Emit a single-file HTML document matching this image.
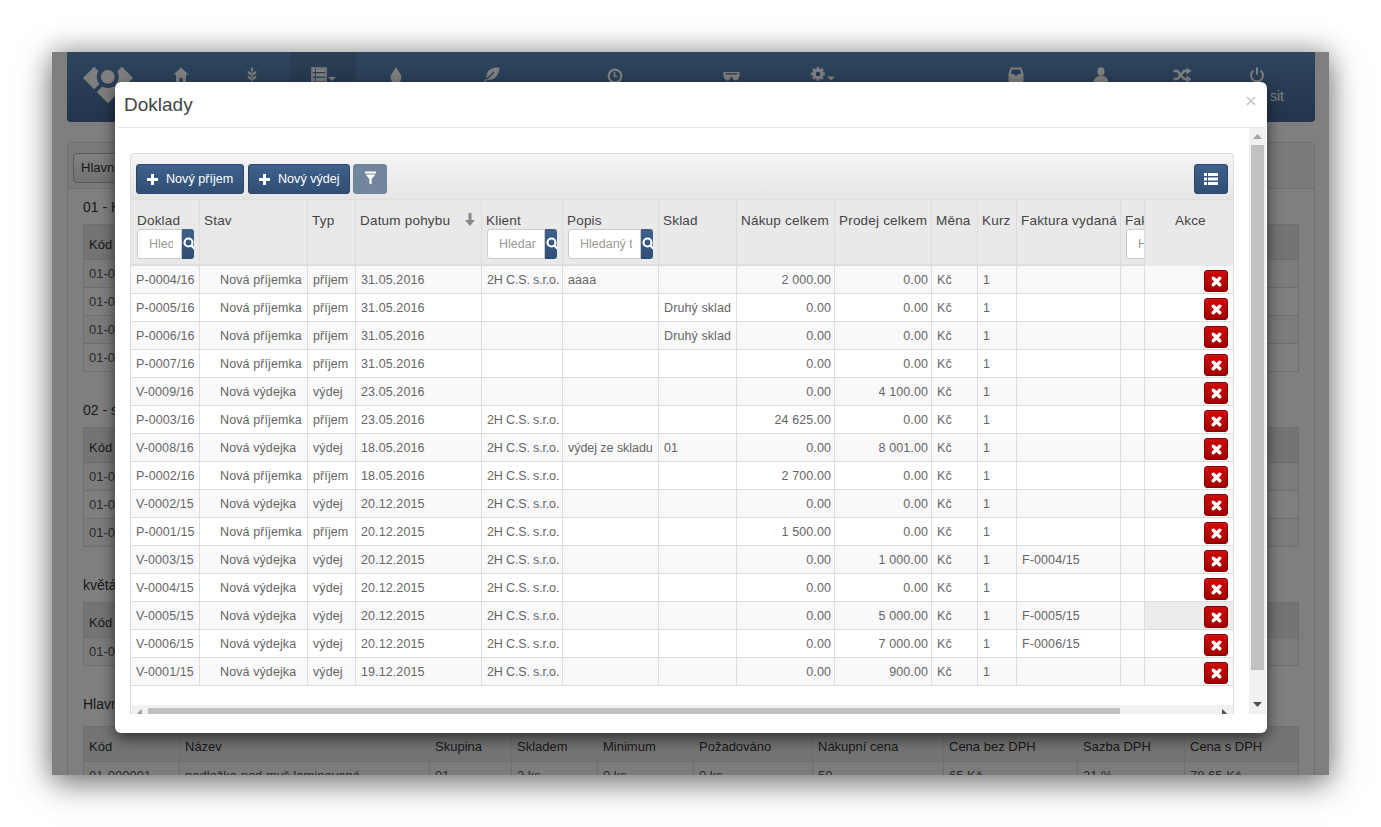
<!DOCTYPE html><html><head><meta charset="utf-8"><title>Doklady</title><style>
*{box-sizing:border-box;margin:0;padding:0}
html,body{width:1381px;height:827px;overflow:hidden;background:#fff;font-family:"Liberation Sans",sans-serif}
.abs{position:absolute}
#win{position:absolute;left:52px;top:52px;width:1277px;height:723px;background:#fff;overflow:hidden;box-shadow:0 8px 30px rgba(0,0,0,.55),0 -6px 24px rgba(0,0,0,.14)}
#nav{position:absolute;left:15px;top:0;width:1248px;height:70px;border-radius:0 0 4px 4px;background:linear-gradient(#5e8bbb,#46699a);}
.nico{position:absolute;fill:#fff}
#panel{position:absolute;left:15px;top:90px;width:1248px;height:700px;border:1px solid #ddd;border-radius:4px;background:#fff}
#phead{position:absolute;left:0;top:0;width:1246px;height:46px;background:#f5f5f5;border-bottom:1px solid #ddd}
.bgt{position:absolute;color:#333;font-size:15px;white-space:nowrap}
.btab{position:absolute;border:1px solid #ddd}
.bth{position:absolute;left:0;top:0;right:0;background:#e8e8e8;border-bottom:1px solid #ddd}
.btr{position:absolute;left:0;right:0;border-top:1px solid #ddd}
.btx{position:absolute;font-size:13px;color:#555;white-space:nowrap}
#backdrop{position:absolute;left:0;top:0;width:1277px;height:723px;background:rgba(0,0,0,.5)}
#modal{position:absolute;left:63px;top:30px;width:1152px;height:651px;background:#fff;border-radius:6px;box-shadow:0 5px 15px rgba(0,0,0,.6);overflow:hidden}
#mhead{position:absolute;left:0;top:0;width:1152px;height:46px;border-bottom:1px solid #e5e5e5;border-radius:6px 6px 5px 5px}
#mtitle{position:absolute;left:9px;top:12px;font-size:19px;color:#444;white-space:nowrap}
#mclose{position:absolute;left:1131px;top:14px}
#mbody{position:absolute;left:0;top:46px;width:1152px;height:586px;overflow:hidden}
#vs{position:absolute;left:1134px;top:0;width:17px;height:586px;background:#f1f1f1}
#vthumb{position:absolute;left:2px;top:17px;width:13px;height:525px;background:#c1c1c1}
.cell{position:absolute;font-size:12.5px;color:#666;letter-spacing:0.1px;white-space:nowrap;overflow:hidden}
.th{position:absolute;font-size:13.5px;color:#444;letter-spacing:0.2px;white-space:nowrap;overflow:hidden}
.btn{position:absolute;border-radius:3px;color:#fff;font-size:12.6px;white-space:nowrap;background:linear-gradient(#3e618b,#2f4e74);border:1px solid #2b4567}
.inp{position:absolute;background:#fff;border:1px solid #ccc;border-radius:3px 0 0 3px;font-size:12.5px;color:#999;overflow:hidden;white-space:nowrap}
.sbtn{position:absolute;background:linear-gradient(#3e618b,#2f4e74);border-radius:0 3px 3px 0;overflow:hidden}
.del{position:absolute;width:24px;height:22px;border-radius:3px;background:linear-gradient(#d00c0c,#a00000);border:1px solid #8a0000}
</style></head><body>
<div id="win">
<div id="nav">
<div class="abs" style="left:224px;top:0;width:64px;height:70px;background:rgba(0,0,0,.08);border-left:1px solid rgba(0,0,0,.06);border-right:1px solid rgba(0,0,0,.06)"></div>
<svg class="abs" style="left:13px;top:10px" width="58" height="46" viewBox="0 0 58 46"><defs><mask id="lm"><rect width="58" height="46" fill="#fff"/><circle cx="27.8" cy="14.9" r="11" fill="#000"/></mask></defs><path d="M14.2 4.800000000000001L25.4 16L14.2 27.2L3.0 16Z M41.8 4.800000000000001L53.0 16L41.8 27.2L30.599999999999998 16Z M28 18.8L39.2 30L28 41.2L16.8 30Z" fill="#fff" mask="url(#lm)"/><circle cx="27.8" cy="14.9" r="6.9" fill="#fff"/></svg>
<svg class="abs" style="left:106px;top:15px" width="16" height="16" viewBox="0 0 16 16"><path d="M8 0.5L0.5 7.5H3V16H13V7.5H15.5Z" fill="#fff"/><rect x="6.5" y="11" width="3" height="5" fill="#4d7ab3"/></svg>
<svg class="abs" style="left:180px;top:15px" width="10" height="16" viewBox="0 0 10 16"><path d="M5 0C6.5 1.5 6.5 3.5 5 5C3.5 3.5 3.5 1.5 5 0Z" fill="#fff"/><path d="M0.5 4C3 4.5 4.5 6 4.5 8.5C2 8 0.5 6.5 0.5 4Z M9.5 4C7 4.5 5.5 6 5.5 8.5C8 8 9.5 6.5 9.5 4Z M0.5 8.5C3 9 4.5 10.5 4.5 13C2 12.5 0.5 11 0.5 8.5Z M9.5 8.5C7 9 5.5 10.5 5.5 13C8 12.5 9.5 11 9.5 8.5Z" fill="#fff"/><rect x="4.4" y="5" width="1.2" height="11" fill="#fff"/></svg>
<svg class="abs" style="left:244px;top:15px" width="26" height="16" viewBox="0 0 26 16"><path d="M1 1h14v15H1z" fill="none" stroke="#fff" stroke-width="1.6"/><path d="M2 1.8h12v3.2H2zM2 6.3h12v3.2H2zM2 10.8h12v3.7H2z" fill="#fff"/><path d="M4.4 1.8v13" stroke="#4a70a3" stroke-width="0.9"/><path d="M17 10h8l-4 4z" fill="#fff"/></svg>
<svg class="abs" style="left:323px;top:15px" width="12" height="16" viewBox="0 0 12 16"><path d="M6 0C8 4 11.5 7.5 11.5 10.5A5.5 5.5 0 0 1 0.5 10.5C0.5 7.5 4 4 6 0Z" fill="#fff"/></svg>
<svg class="abs" style="left:417px;top:15px" width="16" height="15" viewBox="0 0 16 15"><path d="M15.5 0.5C9 0.5 3 2 2.5 9C2.5 11 3.5 12.5 5 13C12 12.5 15 7 15.5 0.5Z" fill="#fff"/><path d="M0.5 14.5L10 5" stroke="#4d7ab3" stroke-width="1.2"/><path d="M0.5 14.5L3 12" stroke="#fff" stroke-width="1.4"/></svg>
<svg class="abs" style="left:540px;top:16px" width="16" height="16" viewBox="0 0 16 16"><circle cx="8" cy="8" r="6.3" fill="none" stroke="#fff" stroke-width="2.2"/><path d="M7.5 4v4.5h3" fill="none" stroke="#fff" stroke-width="1.6"/></svg>
<svg class="abs" style="left:656px;top:19px" width="17" height="10" viewBox="0 0 17 10"><path d="M0.5 1H16.5V3.5C16.5 7 15 9.5 12.5 9.5C10.3 9.5 9.3 7.5 9.3 5.8H7.7C7.7 7.5 6.7 9.5 4.5 9.5C2 9.5 0.5 7 0.5 3.5Z" fill="#fff"/><rect x="2.5" y="2.2" width="12" height="1.3" fill="#4a70a3"/></svg>
<svg class="abs" style="left:744px;top:15px" width="26" height="16" viewBox="0 0 26 16"><path d="M11.99 5.53 L13.83 5.47 L13.83 8.53 L11.99 8.47 L11.56 9.49 L12.91 10.75 L10.75 12.91 L9.49 11.56 L8.47 11.99 L8.53 13.83 L5.47 13.83 L5.53 11.99 L4.51 11.56 L3.25 12.91 L1.09 10.75 L2.44 9.49 L2.01 8.47 L0.17 8.53 L0.17 5.47 L2.01 5.53 L2.44 4.51 L1.09 3.25 L3.25 1.09 L4.51 2.44 L5.53 2.01 L5.47 0.17 L8.53 0.17 L8.47 2.01 L9.49 2.44 L10.75 1.09 L12.91 3.25 L11.56 4.51Z" fill="#fff"/><circle cx="7" cy="7" r="2.3" fill="#4a70a3"/><path d="M16 9.5h8l-4 4z" fill="#fff"/></svg>
<svg class="abs" style="left:941px;top:15px" width="16" height="16" viewBox="0 0 16 16"><path d="M2.5 0.5H13.5L15.5 7V15.5H0.5V7Z" fill="#fff"/><path d="M4 2.5H12L13.2 7H10L8 9.5 6 7H2.8Z" fill="#4d7ab3"/></svg>
<svg class="abs" style="left:1026px;top:15px" width="16" height="16" viewBox="0 0 16 16"><ellipse cx="8" cy="4.5" rx="3.5" ry="4.2" fill="#fff"/><path d="M0.5 16C0.5 11 4 9.5 6 9H10C12 9.5 15.5 11 15.5 16Z" fill="#fff"/></svg>
<svg class="abs" style="left:1106px;top:15px" width="19" height="16" viewBox="0 0 19 16"><path d="M0.5 4H4.5L11 12H14" fill="none" stroke="#fff" stroke-width="2.4"/><path d="M0.5 12H4.5L11 4H14" fill="none" stroke="#fff" stroke-width="2.4"/><path d="M13.5 0.5L18.5 4L13.5 7.5Z M13.5 8.5L18.5 12L13.5 15.5Z" fill="#fff"/></svg>
<svg class="abs" style="left:1182px;top:15px" width="16" height="16" viewBox="0 0 16 16"><path d="M4.5 3.5A6 6 0 1 0 11.5 3.5" fill="none" stroke="#fff" stroke-width="2"/><rect x="7" y="0.5" width="2" height="7" fill="#fff"/></svg>
<div class="abs" style="right:31px;top:36px;font-size:14px;color:#fff;white-space:nowrap">Odhlá<span style="margin-left:6px">sit</span></div>
</div>
<div id="panel"><div id="phead"></div>
<div class="abs" style="left:5px;top:10px;width:130px;height:30px;border:1px solid #b5b5b5;border-radius:4px;background:linear-gradient(#fff,#e6e6e6);font-size:13px;color:#333;padding:6px 0 0 7px;white-space:nowrap">Hlavní sklad</div>
</div>
<div class="bgt" style="left:31px;top:147px;font-size:14px">01 - Hlavní skupina</div>
<div class="btab" style="left:31px;top:172px;width:1216px;height:148px">
<div class="bth" style="height:34px;border-bottom:none"></div>
<div class="btr" style="top:34px;height:28px;background:#f9f9f9"></div>
<div class="btr" style="top:62px;height:28px;background:#fff"></div>
<div class="btr" style="top:90px;height:28px;background:#f9f9f9"></div>
<div class="btr" style="top:118px;height:28px;background:#fff"></div>
<div class="btx" style="left:5px;top:12px;color:#333">Kód</div>
<div class="btx" style="left:5px;top:41px">01-000001</div>
<div class="btx" style="left:5px;top:69px">01-000002</div>
<div class="btx" style="left:5px;top:97px">01-000003</div>
<div class="btx" style="left:5px;top:125px">01-000004</div>
</div>
<div class="bgt" style="left:31px;top:350px;font-size:14px">02 - spotřební materiál</div>
<div class="btab" style="left:31px;top:375px;width:1216px;height:120px">
<div class="bth" style="height:34px;border-bottom:none"></div>
<div class="btr" style="top:34px;height:28px;background:#f9f9f9"></div>
<div class="btr" style="top:62px;height:28px;background:#fff"></div>
<div class="btr" style="top:90px;height:28px;background:#f9f9f9"></div>
<div class="btx" style="left:5px;top:12px;color:#333">Kód</div>
<div class="btx" style="left:5px;top:41px">01-000005</div>
<div class="btx" style="left:5px;top:69px">01-000006</div>
<div class="btx" style="left:5px;top:97px">01-000007</div>
</div>
<div class="bgt" style="left:31px;top:525px;font-size:14px">květáky</div>
<div class="btab" style="left:31px;top:550px;width:1216px;height:64px">
<div class="bth" style="height:34px;border-bottom:none"></div>
<div class="btr" style="top:34px;height:28px;background:#f9f9f9"></div>
<div class="btx" style="left:5px;top:12px;color:#333">Kód</div>
<div class="btx" style="left:5px;top:41px">01-000008</div>
</div>
<div class="bgt" style="left:31px;top:644px;font-size:14px">Hlavní sklad</div>
<div class="btab" style="left:31px;top:674px;width:1216px;height:64px">
<div class="bth" style="height:34px;border-bottom:none"></div>
<div class="btr" style="top:34px;height:28px;background:#f9f9f9"></div>
<div class="abs" style="left:95px;top:0;width:1px;height:62px;background:#ddd"></div>
<div class="abs" style="left:345px;top:0;width:1px;height:62px;background:#ddd"></div>
<div class="abs" style="left:427px;top:0;width:1px;height:62px;background:#ddd"></div>
<div class="abs" style="left:513px;top:0;width:1px;height:62px;background:#ddd"></div>
<div class="abs" style="left:609px;top:0;width:1px;height:62px;background:#ddd"></div>
<div class="abs" style="left:728px;top:0;width:1px;height:62px;background:#ddd"></div>
<div class="abs" style="left:859px;top:0;width:1px;height:62px;background:#ddd"></div>
<div class="abs" style="left:993px;top:0;width:1px;height:62px;background:#ddd"></div>
<div class="abs" style="left:1100px;top:0;width:1px;height:62px;background:#ddd"></div>
<div class="btx" style="left:5px;top:12px;color:#333">Kód</div>
<div class="btx" style="left:101px;top:12px;color:#333">Název</div>
<div class="btx" style="left:351px;top:12px;color:#333">Skupina</div>
<div class="btx" style="left:433px;top:12px;color:#333">Skladem</div>
<div class="btx" style="left:519px;top:12px;color:#333">Minimum</div>
<div class="btx" style="left:615px;top:12px;color:#333">Požadováno</div>
<div class="btx" style="left:734px;top:12px;color:#333">Nákupní cena</div>
<div class="btx" style="left:865px;top:12px;color:#333">Cena bez DPH</div>
<div class="btx" style="left:999px;top:12px;color:#333">Sazba DPH</div>
<div class="btx" style="left:1106px;top:12px;color:#333">Cena s DPH</div>
<div class="btx" style="left:5px;top:41px">01-000001</div>
<div class="btx" style="left:101px;top:41px">podložka pod myš laminované</div>
<div class="btx" style="left:351px;top:41px">01</div>
<div class="btx" style="left:433px;top:41px">2 ks</div>
<div class="btx" style="left:519px;top:41px">0 ks</div>
<div class="btx" style="left:615px;top:41px">0 ks</div>
<div class="btx" style="left:734px;top:41px">50</div>
<div class="btx" style="left:865px;top:41px">65 Kč</div>
<div class="btx" style="left:999px;top:41px">21 %</div>
<div class="btx" style="left:1106px;top:41px">78.65 Kč</div>
</div>
<div id="backdrop"></div>
<div id="modal">
<div id="mhead"><div id="mtitle">Doklady</div><svg id="mclose" width="10" height="10" viewBox="0 0 10 10"><path d="M1 1L9 9M9 1L1 9" stroke="#c4c4c4" stroke-width="1.7"/></svg></div>
<div id="mbody">
<div class="abs" style="left:15px;top:25px;width:1104px;height:47px;border:1px solid #ddd;border-bottom:none;border-radius:4px 4px 0 0;background:linear-gradient(#f5f5f5,#e5e5e5)"></div>
<div class="btn" style="left:21px;top:36px;width:108px;height:30px;">
<svg class="abs" style="left:10px;top:9px" width="11" height="11" viewBox="0 0 11 11"><path d="M4 0h3v4h4v3H7v4H4V7H0V4h4z" fill="#fff"/></svg>
<div class="abs" style="left:29px;top:7px">Nový příjem</div>
</div>
<div class="btn" style="left:133px;top:36px;width:102px;height:30px;">
<svg class="abs" style="left:10px;top:9px" width="11" height="11" viewBox="0 0 11 11"><path d="M4 0h3v4h4v3H7v4H4V7H0V4h4z" fill="#fff"/></svg>
<div class="abs" style="left:29px;top:7px">Nový výdej</div>
</div>
<div class="btn" style="left:238px;top:36px;width:34px;height:30px;background:#72869d;border-color:#6e8299">
</div>
<svg class="abs" style="left:250px;top:43px" width="11" height="14" viewBox="0 0 11 14"><path d="M0 0.6h11v1.8H0z M0.6 3.4h9.8L6.6 8v5.5L4.4 12.5V8z" fill="#fff"/></svg>
<div class="btn" style="left:1079px;top:36px;width:34px;height:30px"><svg class="abs" style="left:9px;top:8px" width="14" height="12" viewBox="0 0 14 12"><path d="M0 0h3v3H0zM4 0h10v3H4zM0 4.5h3v3H0zM4 4.5h10v3H4zM0 9h3v3H0zM4 9h10v3H4z" fill="#fff"/></svg></div>
<div class="abs" style="left:15px;top:71px;width:1104px;height:67px;background:#e9e9e9;border:1px solid #ddd;border-bottom:2px solid #ddd"></div>
<div class="abs" style="left:15px;top:138px;width:1104px;height:28px;background:#f9f9f9;border:1px solid #ddd;border-top:none"></div>
<div class="abs" style="left:15px;top:166px;width:1104px;height:28px;background:#fff;border:1px solid #ddd;border-top:none"></div>
<div class="abs" style="left:15px;top:194px;width:1104px;height:28px;background:#f9f9f9;border:1px solid #ddd;border-top:none"></div>
<div class="abs" style="left:15px;top:222px;width:1104px;height:28px;background:#fff;border:1px solid #ddd;border-top:none"></div>
<div class="abs" style="left:15px;top:250px;width:1104px;height:28px;background:#f9f9f9;border:1px solid #ddd;border-top:none"></div>
<div class="abs" style="left:15px;top:278px;width:1104px;height:28px;background:#fff;border:1px solid #ddd;border-top:none"></div>
<div class="abs" style="left:15px;top:306px;width:1104px;height:28px;background:#f9f9f9;border:1px solid #ddd;border-top:none"></div>
<div class="abs" style="left:15px;top:334px;width:1104px;height:28px;background:#fff;border:1px solid #ddd;border-top:none"></div>
<div class="abs" style="left:15px;top:362px;width:1104px;height:28px;background:#f9f9f9;border:1px solid #ddd;border-top:none"></div>
<div class="abs" style="left:15px;top:390px;width:1104px;height:28px;background:#fff;border:1px solid #ddd;border-top:none"></div>
<div class="abs" style="left:15px;top:418px;width:1104px;height:28px;background:#f9f9f9;border:1px solid #ddd;border-top:none"></div>
<div class="abs" style="left:15px;top:446px;width:1104px;height:28px;background:#fff;border:1px solid #ddd;border-top:none"></div>
<div class="abs" style="left:15px;top:474px;width:1104px;height:28px;background:#f9f9f9;border:1px solid #ddd;border-top:none"></div>
<div class="abs" style="left:15px;top:502px;width:1104px;height:28px;background:#fff;border:1px solid #ddd;border-top:none"></div>
<div class="abs" style="left:15px;top:530px;width:1104px;height:28px;background:#f9f9f9;border:1px solid #ddd;border-top:none"></div>
<div class="abs" style="left:84px;top:72px;width:1px;height:486px;background:#ddd"></div>
<div class="abs" style="left:192px;top:72px;width:1px;height:486px;background:#ddd"></div>
<div class="abs" style="left:240px;top:72px;width:1px;height:486px;background:#ddd"></div>
<div class="abs" style="left:366px;top:72px;width:1px;height:486px;background:#ddd"></div>
<div class="abs" style="left:447px;top:72px;width:1px;height:486px;background:#ddd"></div>
<div class="abs" style="left:543px;top:72px;width:1px;height:486px;background:#ddd"></div>
<div class="abs" style="left:621px;top:72px;width:1px;height:486px;background:#ddd"></div>
<div class="abs" style="left:719px;top:72px;width:1px;height:486px;background:#ddd"></div>
<div class="abs" style="left:816px;top:72px;width:1px;height:486px;background:#ddd"></div>
<div class="abs" style="left:862px;top:72px;width:1px;height:486px;background:#ddd"></div>
<div class="abs" style="left:901px;top:72px;width:1px;height:486px;background:#ddd"></div>
<div class="abs" style="left:1005px;top:72px;width:1px;height:486px;background:#ddd"></div>
<div class="th" style="left:22px;top:85px">Doklad</div>
<div class="th" style="left:89px;top:85px">Stav</div>
<div class="th" style="left:197px;top:85px">Typ</div>
<div class="th" style="left:245px;top:85px">Datum pohybu</div>
<div class="th" style="left:371px;top:85px">Klient</div>
<div class="th" style="left:452px;top:85px">Popis</div>
<div class="th" style="left:548px;top:85px">Sklad</div>
<div class="th" style="left:626px;top:85px">Nákup celkem</div>
<div class="th" style="left:724px;top:85px">Prodej celkem</div>
<div class="th" style="left:821px;top:85px">Měna</div>
<div class="th" style="left:867px;top:85px">Kurz</div>
<div class="th" style="left:906px;top:85px">Faktura vydaná</div>
<div class="th" style="left:1010px;top:85px">Faktura přijatá</div>
<svg class="abs" style="left:350px;top:85px" width="10" height="13" viewBox="0 0 10 13"><path d="M3.5 0h3v7H10L5 13 0 7h3.5z" fill="#888"/></svg>
<div class="inp" style="left:22px;top:101px;width:45px;height:30px"><div class="abs" style="left:11px;top:7px;width:24px;overflow:hidden;white-space:nowrap">Hledaný text</div></div>
<div class="sbtn" style="left:67px;top:101px;width:12px;height:30px"><svg class="abs" style="left:1px;top:8px" width="14" height="14" viewBox="0 0 14 14"><circle cx="5.5" cy="5.5" r="4" fill="none" stroke="#fff" stroke-width="2.2"/><path d="M8 8l4 4" stroke="#fff" stroke-width="2.6"/></svg></div>
<div class="inp" style="left:372px;top:101px;width:58px;height:30px"><div class="abs" style="left:11px;top:7px;width:37px;overflow:hidden;white-space:nowrap">Hledaný text</div></div>
<div class="sbtn" style="left:430px;top:101px;width:12px;height:30px"><svg class="abs" style="left:1px;top:8px" width="14" height="14" viewBox="0 0 14 14"><circle cx="5.5" cy="5.5" r="4" fill="none" stroke="#fff" stroke-width="2.2"/><path d="M8 8l4 4" stroke="#fff" stroke-width="2.6"/></svg></div>
<div class="inp" style="left:453px;top:101px;width:73px;height:30px"><div class="abs" style="left:11px;top:7px;width:52px;overflow:hidden;white-space:nowrap">Hledaný text</div></div>
<div class="sbtn" style="left:526px;top:101px;width:12px;height:30px"><svg class="abs" style="left:1px;top:8px" width="14" height="14" viewBox="0 0 14 14"><circle cx="5.5" cy="5.5" r="4" fill="none" stroke="#fff" stroke-width="2.2"/><path d="M8 8l4 4" stroke="#fff" stroke-width="2.6"/></svg></div>
<div class="inp" style="left:1011px;top:101px;width:54px;height:30px"><div class="abs" style="left:11px;top:7px;width:33px;overflow:hidden;white-space:nowrap">Hledaný text</div></div>
<div class="sbtn" style="left:1065px;top:101px;width:12px;height:30px"><svg class="abs" style="left:1px;top:8px" width="14" height="14" viewBox="0 0 14 14"><circle cx="5.5" cy="5.5" r="4" fill="none" stroke="#fff" stroke-width="2.2"/><path d="M8 8l4 4" stroke="#fff" stroke-width="2.6"/></svg></div>
<div class="cell" style="left:21px;top:145px">P-0004/16</div>
<div class="cell" style="left:105px;top:145px">Nová příjemka</div>
<div class="cell" style="left:198px;top:145px">příjem</div>
<div class="cell" style="left:246px;top:145px">31.05.2016</div>
<div class="cell" style="left:372px;top:145px;letter-spacing:-0.15px">2H C.S. s.r.o.</div>
<div class="cell" style="left:453px;top:145px">aaaa</div>
<div class="cell" style="right:436px;top:145px">2 000.00</div>
<div class="cell" style="right:339px;top:145px">0.00</div>
<div class="cell" style="left:822px;top:145px">Kč</div>
<div class="cell" style="left:868px;top:145px">1</div>
<div class="cell" style="left:21px;top:173px">P-0005/16</div>
<div class="cell" style="left:105px;top:173px">Nová příjemka</div>
<div class="cell" style="left:198px;top:173px">příjem</div>
<div class="cell" style="left:246px;top:173px">31.05.2016</div>
<div class="cell" style="left:549px;top:173px">Druhý sklad</div>
<div class="cell" style="right:436px;top:173px">0.00</div>
<div class="cell" style="right:339px;top:173px">0.00</div>
<div class="cell" style="left:822px;top:173px">Kč</div>
<div class="cell" style="left:868px;top:173px">1</div>
<div class="cell" style="left:21px;top:201px">P-0006/16</div>
<div class="cell" style="left:105px;top:201px">Nová příjemka</div>
<div class="cell" style="left:198px;top:201px">příjem</div>
<div class="cell" style="left:246px;top:201px">31.05.2016</div>
<div class="cell" style="left:549px;top:201px">Druhý sklad</div>
<div class="cell" style="right:436px;top:201px">0.00</div>
<div class="cell" style="right:339px;top:201px">0.00</div>
<div class="cell" style="left:822px;top:201px">Kč</div>
<div class="cell" style="left:868px;top:201px">1</div>
<div class="cell" style="left:21px;top:229px">P-0007/16</div>
<div class="cell" style="left:105px;top:229px">Nová příjemka</div>
<div class="cell" style="left:198px;top:229px">příjem</div>
<div class="cell" style="left:246px;top:229px">31.05.2016</div>
<div class="cell" style="right:436px;top:229px">0.00</div>
<div class="cell" style="right:339px;top:229px">0.00</div>
<div class="cell" style="left:822px;top:229px">Kč</div>
<div class="cell" style="left:868px;top:229px">1</div>
<div class="cell" style="left:21px;top:257px">V-0009/16</div>
<div class="cell" style="left:105px;top:257px">Nová výdejka</div>
<div class="cell" style="left:198px;top:257px">výdej</div>
<div class="cell" style="left:246px;top:257px">23.05.2016</div>
<div class="cell" style="right:436px;top:257px">0.00</div>
<div class="cell" style="right:339px;top:257px">4 100.00</div>
<div class="cell" style="left:822px;top:257px">Kč</div>
<div class="cell" style="left:868px;top:257px">1</div>
<div class="cell" style="left:21px;top:285px">P-0003/16</div>
<div class="cell" style="left:105px;top:285px">Nová příjemka</div>
<div class="cell" style="left:198px;top:285px">příjem</div>
<div class="cell" style="left:246px;top:285px">23.05.2016</div>
<div class="cell" style="left:372px;top:285px;letter-spacing:-0.15px">2H C.S. s.r.o.</div>
<div class="cell" style="right:436px;top:285px">24 625.00</div>
<div class="cell" style="right:339px;top:285px">0.00</div>
<div class="cell" style="left:822px;top:285px">Kč</div>
<div class="cell" style="left:868px;top:285px">1</div>
<div class="cell" style="left:21px;top:313px">V-0008/16</div>
<div class="cell" style="left:105px;top:313px">Nová výdejka</div>
<div class="cell" style="left:198px;top:313px">výdej</div>
<div class="cell" style="left:246px;top:313px">18.05.2016</div>
<div class="cell" style="left:372px;top:313px;letter-spacing:-0.15px">2H C.S. s.r.o.</div>
<div class="cell" style="left:453px;top:313px;letter-spacing:-0.05px">výdej ze skladu</div>
<div class="cell" style="left:549px;top:313px">01</div>
<div class="cell" style="right:436px;top:313px">0.00</div>
<div class="cell" style="right:339px;top:313px">8 001.00</div>
<div class="cell" style="left:822px;top:313px">Kč</div>
<div class="cell" style="left:868px;top:313px">1</div>
<div class="cell" style="left:21px;top:341px">P-0002/16</div>
<div class="cell" style="left:105px;top:341px">Nová příjemka</div>
<div class="cell" style="left:198px;top:341px">příjem</div>
<div class="cell" style="left:246px;top:341px">18.05.2016</div>
<div class="cell" style="left:372px;top:341px;letter-spacing:-0.15px">2H C.S. s.r.o.</div>
<div class="cell" style="right:436px;top:341px">2 700.00</div>
<div class="cell" style="right:339px;top:341px">0.00</div>
<div class="cell" style="left:822px;top:341px">Kč</div>
<div class="cell" style="left:868px;top:341px">1</div>
<div class="cell" style="left:21px;top:369px">V-0002/15</div>
<div class="cell" style="left:105px;top:369px">Nová výdejka</div>
<div class="cell" style="left:198px;top:369px">výdej</div>
<div class="cell" style="left:246px;top:369px">20.12.2015</div>
<div class="cell" style="left:372px;top:369px;letter-spacing:-0.15px">2H C.S. s.r.o.</div>
<div class="cell" style="right:436px;top:369px">0.00</div>
<div class="cell" style="right:339px;top:369px">0.00</div>
<div class="cell" style="left:822px;top:369px">Kč</div>
<div class="cell" style="left:868px;top:369px">1</div>
<div class="cell" style="left:21px;top:397px">P-0001/15</div>
<div class="cell" style="left:105px;top:397px">Nová příjemka</div>
<div class="cell" style="left:198px;top:397px">příjem</div>
<div class="cell" style="left:246px;top:397px">20.12.2015</div>
<div class="cell" style="left:372px;top:397px;letter-spacing:-0.15px">2H C.S. s.r.o.</div>
<div class="cell" style="right:436px;top:397px">1 500.00</div>
<div class="cell" style="right:339px;top:397px">0.00</div>
<div class="cell" style="left:822px;top:397px">Kč</div>
<div class="cell" style="left:868px;top:397px">1</div>
<div class="cell" style="left:21px;top:425px">V-0003/15</div>
<div class="cell" style="left:105px;top:425px">Nová výdejka</div>
<div class="cell" style="left:198px;top:425px">výdej</div>
<div class="cell" style="left:246px;top:425px">20.12.2015</div>
<div class="cell" style="left:372px;top:425px;letter-spacing:-0.15px">2H C.S. s.r.o.</div>
<div class="cell" style="right:436px;top:425px">0.00</div>
<div class="cell" style="right:339px;top:425px">1 000.00</div>
<div class="cell" style="left:822px;top:425px">Kč</div>
<div class="cell" style="left:868px;top:425px">1</div>
<div class="cell" style="left:907px;top:425px">F-0004/15</div>
<div class="cell" style="left:21px;top:453px">V-0004/15</div>
<div class="cell" style="left:105px;top:453px">Nová výdejka</div>
<div class="cell" style="left:198px;top:453px">výdej</div>
<div class="cell" style="left:246px;top:453px">20.12.2015</div>
<div class="cell" style="left:372px;top:453px;letter-spacing:-0.15px">2H C.S. s.r.o.</div>
<div class="cell" style="right:436px;top:453px">0.00</div>
<div class="cell" style="right:339px;top:453px">0.00</div>
<div class="cell" style="left:822px;top:453px">Kč</div>
<div class="cell" style="left:868px;top:453px">1</div>
<div class="cell" style="left:21px;top:481px">V-0005/15</div>
<div class="cell" style="left:105px;top:481px">Nová výdejka</div>
<div class="cell" style="left:198px;top:481px">výdej</div>
<div class="cell" style="left:246px;top:481px">20.12.2015</div>
<div class="cell" style="left:372px;top:481px;letter-spacing:-0.15px">2H C.S. s.r.o.</div>
<div class="cell" style="right:436px;top:481px">0.00</div>
<div class="cell" style="right:339px;top:481px">5 000.00</div>
<div class="cell" style="left:822px;top:481px">Kč</div>
<div class="cell" style="left:868px;top:481px">1</div>
<div class="cell" style="left:907px;top:481px">F-0005/15</div>
<div class="cell" style="left:21px;top:509px">V-0006/15</div>
<div class="cell" style="left:105px;top:509px">Nová výdejka</div>
<div class="cell" style="left:198px;top:509px">výdej</div>
<div class="cell" style="left:246px;top:509px">20.12.2015</div>
<div class="cell" style="left:372px;top:509px;letter-spacing:-0.15px">2H C.S. s.r.o.</div>
<div class="cell" style="right:436px;top:509px">0.00</div>
<div class="cell" style="right:339px;top:509px">7 000.00</div>
<div class="cell" style="left:822px;top:509px">Kč</div>
<div class="cell" style="left:868px;top:509px">1</div>
<div class="cell" style="left:907px;top:509px">F-0006/15</div>
<div class="cell" style="left:21px;top:537px">V-0001/15</div>
<div class="cell" style="left:105px;top:537px">Nová výdejka</div>
<div class="cell" style="left:198px;top:537px">výdej</div>
<div class="cell" style="left:246px;top:537px">19.12.2015</div>
<div class="cell" style="left:372px;top:537px;letter-spacing:-0.15px">2H C.S. s.r.o.</div>
<div class="cell" style="right:436px;top:537px">0.00</div>
<div class="cell" style="right:339px;top:537px">900.00</div>
<div class="cell" style="left:822px;top:537px">Kč</div>
<div class="cell" style="left:868px;top:537px">1</div>
<div class="abs" style="left:1029px;top:71px;width:90px;height:487px;border-left:1px solid #ddd;border-right:1px solid #ddd;background:#fff">
<div class="abs" style="left:0;top:0;width:88px;height:67px;background:#e9e9e9;border-top:1px solid #ddd"></div>
<div class="abs" style="left:0;top:67px;width:88px;height:28px;background:#f9f9f9;border-bottom:1px solid #ddd"></div>
<div class="del" style="left:59px;top:71px"><svg class="abs" style="left:6px;top:5px" width="11" height="11" viewBox="0 0 11 11"><path d="M2.3 2.3l6.4 6.4M8.7 2.3l-6.4 6.4" stroke="#fff" stroke-width="3.4" stroke-linecap="round"/></svg></div>
<div class="abs" style="left:0;top:95px;width:88px;height:28px;background:#fff;border-bottom:1px solid #ddd"></div>
<div class="del" style="left:59px;top:99px"><svg class="abs" style="left:6px;top:5px" width="11" height="11" viewBox="0 0 11 11"><path d="M2.3 2.3l6.4 6.4M8.7 2.3l-6.4 6.4" stroke="#fff" stroke-width="3.4" stroke-linecap="round"/></svg></div>
<div class="abs" style="left:0;top:123px;width:88px;height:28px;background:#f9f9f9;border-bottom:1px solid #ddd"></div>
<div class="del" style="left:59px;top:127px"><svg class="abs" style="left:6px;top:5px" width="11" height="11" viewBox="0 0 11 11"><path d="M2.3 2.3l6.4 6.4M8.7 2.3l-6.4 6.4" stroke="#fff" stroke-width="3.4" stroke-linecap="round"/></svg></div>
<div class="abs" style="left:0;top:151px;width:88px;height:28px;background:#fff;border-bottom:1px solid #ddd"></div>
<div class="del" style="left:59px;top:155px"><svg class="abs" style="left:6px;top:5px" width="11" height="11" viewBox="0 0 11 11"><path d="M2.3 2.3l6.4 6.4M8.7 2.3l-6.4 6.4" stroke="#fff" stroke-width="3.4" stroke-linecap="round"/></svg></div>
<div class="abs" style="left:0;top:179px;width:88px;height:28px;background:#f9f9f9;border-bottom:1px solid #ddd"></div>
<div class="del" style="left:59px;top:183px"><svg class="abs" style="left:6px;top:5px" width="11" height="11" viewBox="0 0 11 11"><path d="M2.3 2.3l6.4 6.4M8.7 2.3l-6.4 6.4" stroke="#fff" stroke-width="3.4" stroke-linecap="round"/></svg></div>
<div class="abs" style="left:0;top:207px;width:88px;height:28px;background:#fff;border-bottom:1px solid #ddd"></div>
<div class="del" style="left:59px;top:211px"><svg class="abs" style="left:6px;top:5px" width="11" height="11" viewBox="0 0 11 11"><path d="M2.3 2.3l6.4 6.4M8.7 2.3l-6.4 6.4" stroke="#fff" stroke-width="3.4" stroke-linecap="round"/></svg></div>
<div class="abs" style="left:0;top:235px;width:88px;height:28px;background:#f9f9f9;border-bottom:1px solid #ddd"></div>
<div class="del" style="left:59px;top:239px"><svg class="abs" style="left:6px;top:5px" width="11" height="11" viewBox="0 0 11 11"><path d="M2.3 2.3l6.4 6.4M8.7 2.3l-6.4 6.4" stroke="#fff" stroke-width="3.4" stroke-linecap="round"/></svg></div>
<div class="abs" style="left:0;top:263px;width:88px;height:28px;background:#fff;border-bottom:1px solid #ddd"></div>
<div class="del" style="left:59px;top:267px"><svg class="abs" style="left:6px;top:5px" width="11" height="11" viewBox="0 0 11 11"><path d="M2.3 2.3l6.4 6.4M8.7 2.3l-6.4 6.4" stroke="#fff" stroke-width="3.4" stroke-linecap="round"/></svg></div>
<div class="abs" style="left:0;top:291px;width:88px;height:28px;background:#f9f9f9;border-bottom:1px solid #ddd"></div>
<div class="del" style="left:59px;top:295px"><svg class="abs" style="left:6px;top:5px" width="11" height="11" viewBox="0 0 11 11"><path d="M2.3 2.3l6.4 6.4M8.7 2.3l-6.4 6.4" stroke="#fff" stroke-width="3.4" stroke-linecap="round"/></svg></div>
<div class="abs" style="left:0;top:319px;width:88px;height:28px;background:#fff;border-bottom:1px solid #ddd"></div>
<div class="del" style="left:59px;top:323px"><svg class="abs" style="left:6px;top:5px" width="11" height="11" viewBox="0 0 11 11"><path d="M2.3 2.3l6.4 6.4M8.7 2.3l-6.4 6.4" stroke="#fff" stroke-width="3.4" stroke-linecap="round"/></svg></div>
<div class="abs" style="left:0;top:347px;width:88px;height:28px;background:#f9f9f9;border-bottom:1px solid #ddd"></div>
<div class="del" style="left:59px;top:351px"><svg class="abs" style="left:6px;top:5px" width="11" height="11" viewBox="0 0 11 11"><path d="M2.3 2.3l6.4 6.4M8.7 2.3l-6.4 6.4" stroke="#fff" stroke-width="3.4" stroke-linecap="round"/></svg></div>
<div class="abs" style="left:0;top:375px;width:88px;height:28px;background:#fff;border-bottom:1px solid #ddd"></div>
<div class="del" style="left:59px;top:379px"><svg class="abs" style="left:6px;top:5px" width="11" height="11" viewBox="0 0 11 11"><path d="M2.3 2.3l6.4 6.4M8.7 2.3l-6.4 6.4" stroke="#fff" stroke-width="3.4" stroke-linecap="round"/></svg></div>
<div class="abs" style="left:0;top:403px;width:88px;height:28px;background:#ececec;border-bottom:1px solid #ddd"></div>
<div class="del" style="left:59px;top:407px"><svg class="abs" style="left:6px;top:5px" width="11" height="11" viewBox="0 0 11 11"><path d="M2.3 2.3l6.4 6.4M8.7 2.3l-6.4 6.4" stroke="#fff" stroke-width="3.4" stroke-linecap="round"/></svg></div>
<div class="abs" style="left:0;top:431px;width:88px;height:28px;background:#fff;border-bottom:1px solid #ddd"></div>
<div class="del" style="left:59px;top:435px"><svg class="abs" style="left:6px;top:5px" width="11" height="11" viewBox="0 0 11 11"><path d="M2.3 2.3l6.4 6.4M8.7 2.3l-6.4 6.4" stroke="#fff" stroke-width="3.4" stroke-linecap="round"/></svg></div>
<div class="abs" style="left:0;top:459px;width:88px;height:28px;background:#f9f9f9;border-bottom:1px solid #ddd"></div>
<div class="del" style="left:59px;top:463px"><svg class="abs" style="left:6px;top:5px" width="11" height="11" viewBox="0 0 11 11"><path d="M2.3 2.3l6.4 6.4M8.7 2.3l-6.4 6.4" stroke="#fff" stroke-width="3.4" stroke-linecap="round"/></svg></div>
<div class="th" style="left:30px;top:14px">Akce</div>
</div>
<div class="abs" style="left:15px;top:558px;width:1104px;height:40px;border-left:1px solid #ddd;border-right:1px solid #ddd"></div>
<div class="abs" style="left:15px;top:577px;width:1104px;height:17px;background:#f1f1f1;border-left:1px solid #ddd;border-right:1px solid #ddd"><div class="abs" style="left:17px;top:3px;width:972px;height:11px;background:#c1c1c1"></div><svg class="abs" style="left:6px;top:4px" width="5" height="9" viewBox="0 0 5 9"><path d="M5 0L0 4.5 5 9z" fill="#a3a3a3"/></svg><svg class="abs" style="left:1091px;top:4px" width="5" height="9" viewBox="0 0 5 9"><path d="M0 0L5 4.5 0 9z" fill="#505050"/></svg></div>
<div id="vs"><div id="vthumb"></div>
<svg class="abs" style="left:4px;top:6px" width="9" height="5" viewBox="0 0 9 5"><path d="M0 5L4.5 0 9 5z" fill="#a3a3a3"/></svg>
<svg class="abs" style="left:4px;top:574px" width="9" height="5" viewBox="0 0 9 5"><path d="M0 0L4.5 5 9 0z" fill="#505050"/></svg>
</div>
</div>
</div>
</div>
</body></html>
